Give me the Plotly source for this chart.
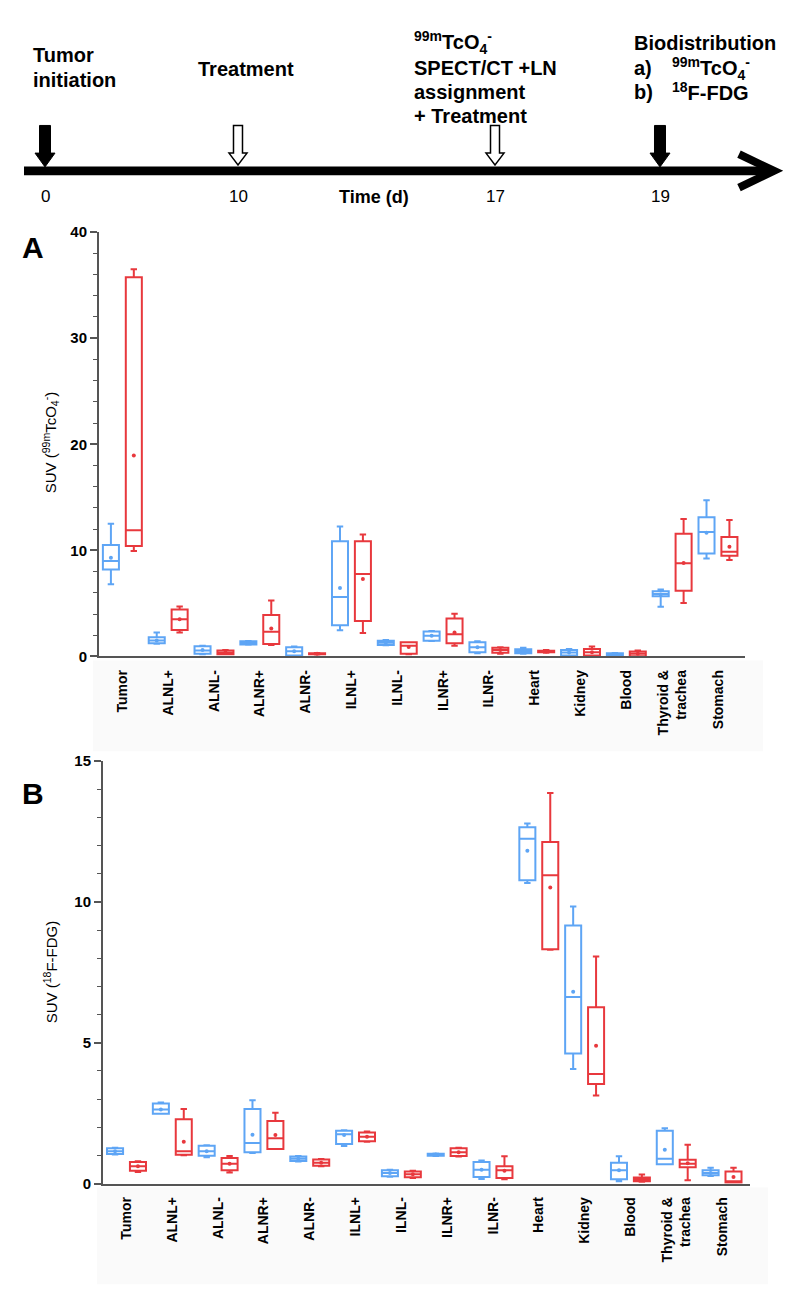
import plotly.graph_objects as go
import numpy as np

W, H = 800, 1307

# ---------------- data ----------------
categories = ["Tumor", "ALNL+", "ALNL-", "ALNR+", "ALNR-", "ILNL+", "ILNL-", "ILNR+",
              "ILNR-", "Heart", "Kidney", "Blood", "Thyroid & trachea", "Stomach"]
tick_text = ["Tumor", "ALNL+", "ALNL-", "ALNR+", "ALNR-", "ILNL+", "ILNL-", "ILNR+",
             "ILNR-", "Heart", "Kidney", "Blood", "Thyroid &<br>trachea", "Stomach"]

# Panel A: SUV (99mTcO4-)  -- blue group
a_blue_lf   = [6.8, 1.20, 0.20, 1.10, 0.05, 2.48, 1.05, 1.45, 0.30, 0.25, 0.05, 0.02, 4.68, 9.24]
a_blue_q1   = [8.2, 1.24, 0.25, 1.12, 0.10, 2.95, 1.09, 1.49, 0.40, 0.31, 0.09, 0.03, 5.67, 9.71]
a_blue_med  = [9.0, 1.50, 0.56, 1.27, 0.50, 5.60, 1.30, 1.95, 0.87, 0.50, 0.37, 0.15, 5.89, 11.72]
a_blue_q3   = [10.5, 1.80, 0.96, 1.43, 0.87, 10.85, 1.49, 2.36, 1.33, 0.68, 0.62, 0.30, 6.14, 13.12]
a_blue_uf   = [12.5, 2.26, 1.00, 1.45, 0.93, 12.25, 1.55, 2.40, 1.43, 0.81, 0.71, 0.32, 6.30, 14.73]
a_blue_mean = [9.3, 1.50, 0.60, 1.27, 0.50, 6.45, 1.30, 1.95, 0.87, 0.50, 0.37, 0.15, 5.85, 11.65]
# Panel A -- red group
a_red_lf    = [9.95, 2.26, 0.20, 1.08, 0.18, 2.20, 0.20, 1.02, 0.25, 0.35, 0.05, 0.02, 5.05, 9.09]
a_red_q1    = [10.4, 2.50, 0.20, 1.18, 0.20, 3.35, 0.25, 1.24, 0.34, 0.40, 0.09, 0.03, 6.20, 9.49]
a_red_med   = [11.9, 3.50, 0.35, 2.33, 0.25, 7.78, 1.00, 2.10, 0.62, 0.47, 0.40, 0.25, 8.78, 9.86]
a_red_q3    = [35.75, 4.43, 0.56, 3.90, 0.30, 10.85, 1.33, 3.57, 0.81, 0.55, 0.71, 0.47, 11.57, 11.26]
a_red_uf    = [36.5, 4.70, 0.60, 5.27, 0.32, 11.50, 1.35, 4.03, 0.87, 0.60, 0.93, 0.56, 12.96, 12.87]
a_red_mean  = [18.95, 3.50, 0.38, 2.64, 0.25, 7.30, 0.90, 2.27, 0.62, 0.47, 0.40, 0.25, 8.80, 10.33]

# Panel B: SUV (18F-FDG) -- blue group
b_blue_lf   = [1.03, 2.48, 0.93, 1.08, 0.78, 1.33, 0.24, 0.98, 0.16, 10.67, 4.07, 0.08, 0.68, 0.27]
b_blue_q1   = [1.05, 2.48, 0.99, 1.11, 0.80, 1.40, 0.26, 0.99, 0.23, 10.77, 4.62, 0.15, 0.68, 0.29]
b_blue_med  = [1.15, 2.63, 1.15, 1.44, 0.88, 1.75, 0.37, 1.03, 0.49, 12.24, 6.62, 0.47, 0.88, 0.37]
b_blue_q3   = [1.25, 2.84, 1.34, 2.65, 0.96, 1.87, 0.47, 1.06, 0.76, 12.65, 9.16, 0.74, 1.87, 0.47]
b_blue_uf   = [1.27, 2.88, 1.36, 2.96, 0.98, 1.89, 0.49, 1.07, 0.82, 12.78, 9.84, 0.97, 1.96, 0.56]
b_blue_mean = [1.15, 2.63, 1.15, 1.73, 0.88, 1.72, 0.37, 1.03, 0.49, 11.82, 6.81, 0.47, 1.20, 0.37]
# Panel B -- red group
b_red_lf    = [0.41, 1.00, 0.39, 1.23, 0.61, 1.48, 0.20, 0.96, 0.15, 8.30, 3.13, 0.06, 0.12, 0.03]
b_red_q1    = [0.45, 1.02, 0.47, 1.23, 0.63, 1.50, 0.22, 0.98, 0.20, 8.32, 3.53, 0.08, 0.58, 0.03]
b_red_med   = [0.61, 1.15, 0.70, 1.61, 0.74, 1.66, 0.33, 1.11, 0.47, 10.95, 3.89, 0.15, 0.70, 0.08]
b_red_q3    = [0.76, 2.28, 0.91, 2.22, 0.85, 1.81, 0.43, 1.25, 0.61, 12.13, 6.26, 0.21, 0.84, 0.43]
b_red_uf    = [0.79, 2.65, 0.98, 2.51, 0.87, 1.85, 0.45, 1.27, 0.97, 13.87, 8.06, 0.32, 1.38, 0.56]
b_red_mean  = [0.61, 1.48, 0.70, 1.72, 0.74, 1.66, 0.33, 1.11, 0.45, 10.51, 4.89, 0.15, 0.72, 0.23]

# Timeline (schematic)
timeline_days = ["0", "10", "17", "19"]
timeline_filled = [True, False, False, True]

# ---------------- styling ----------------
BLUE = "#5ea5f5"
RED = "#e8383d"
AX = "#555555"
FONT = "Arial, Liberation Sans, sans-serif"


def px(x):
    return x / W


def py(y):
    return 1 - y / H


fig = go.Figure()
idx = np.arange(len(categories))


def add_panel(xa, ya, groups):
    for color, shift, lf, q1, med, q3, uf, mean in groups:
        xpos = idx + shift
        fig.add_trace(go.Box(
            x=xpos, lowerfence=lf, q1=q1, median=med, q3=q3, upperfence=uf,
            width=0.35, whiskerwidth=0.4, fillcolor="white",
            line=dict(color=color, width=2), boxpoints=False,
            xaxis=xa, yaxis=ya, showlegend=False, hoverinfo="skip"))
        fig.add_trace(go.Scatter(
            x=xpos, y=mean, mode="markers",
            marker=dict(color=color, size=4), xaxis=xa, yaxis=ya,
            showlegend=False, hoverinfo="skip"))


add_panel("x", "y", [
    (BLUE, -0.25, a_blue_lf, a_blue_q1, a_blue_med, a_blue_q3, a_blue_uf, a_blue_mean),
    (RED, 0.25, a_red_lf, a_red_q1, a_red_med, a_red_q3, a_red_uf, a_red_mean),
])
add_panel("x2", "y2", [
    (BLUE, -0.25, b_blue_lf, b_blue_q1, b_blue_med, b_blue_q3, b_blue_uf, b_blue_mean),
    (RED, 0.25, b_red_lf, b_red_q1, b_red_med, b_red_q3, b_red_uf, b_red_mean),
])

xcommon = dict(showline=True, linecolor=AX, linewidth=2, ticks="", tickvals=list(idx),
               ticktext=tick_text, tickangle=-90, showgrid=False, zeroline=False,
               tickfont=dict(size=14, weight="bold", color="black", family=FONT),
               ticklabelstandoff=6)
ycommon = dict(showline=True, linecolor=AX, linewidth=2, ticks="outside", ticklen=7,
               tickwidth=1.5, tickcolor=AX, showgrid=False, zeroline=False,
               tickfont=dict(size=15, weight="bold", color="black", family=FONT))

fig.update_layout(
    width=W, height=H, margin=dict(l=0, r=0, t=0, b=0),
    paper_bgcolor="white", plot_bgcolor="rgba(0,0,0,0)",
    font=dict(family=FONT, color="black"),
    xaxis=dict(domain=[px(99), px(745)], range=[-0.51, 13.59], anchor="y", **xcommon),
    yaxis=dict(domain=[py(656), py(226)], range=[0, 40], anchor="x", dtick=10,
               minor=dict(dtick=2, ticklen=4, tickcolor=AX, tickwidth=1.2, ticks="outside"),
               **ycommon),
    xaxis2=dict(domain=[px(103), px(750)], range=[-0.513, 13.61], anchor="y2", **xcommon),
    yaxis2=dict(domain=[py(1190), py(762)], range=[0, 15], anchor="x2", dtick=5,
                minor=dict(dtick=1, ticklen=4, tickcolor=AX, tickwidth=1.2, ticks="outside"),
                **ycommon),
)

shapes = []
# faint grey label strips
shapes.append(dict(type="rect", xref="paper", yref="paper", x0=px(93), x1=px(763),
                   y0=py(752), y1=py(660), fillcolor="#fafafa", line=dict(width=0), layer="below"))
shapes.append(dict(type="rect", xref="paper", yref="paper", x0=px(97), x1=px(768),
                   y0=py(1292), y1=py(1194), fillcolor="#fafafa", line=dict(width=0), layer="below"))

# timeline main bar
shapes.append(dict(type="rect", xref="paper", yref="paper", x0=px(24), x1=px(770),
                   y0=py(168.5), y1=py(159.5), fillcolor="black", line=dict(width=0)))


def path(points):
    s = "M " + " L ".join(f"{px(x):.5f},{py(y):.5f}" for x, y in points)
    return s


# arrow head chevron
shapes.append(dict(type="path", xref="paper", yref="paper",
                   path=path([(739, 147), (774, 164), (739, 181)]),
                   line=dict(color="black", width=8)))

arrow_x = [45, 238, 495, 660]
for c, filled in zip(arrow_x, timeline_filled):
    if filled:
        pts = [(c - 5.5, 118), (c + 5.5, 118), (c + 5.5, 146), (c + 10, 146), (c, 160),
               (c - 10, 146), (c - 5.5, 146)]
        shapes.append(dict(type="path", xref="paper", yref="paper", path=path(pts) + " Z",
                           fillcolor="black", line=dict(color="black", width=1)))
    else:
        pts = [(c - 4.5, 118), (c + 4.5, 118), (c + 4.5, 146), (c + 9, 146), (c, 158),
               (c - 9, 146), (c - 4.5, 146)]
        shapes.append(dict(type="path", xref="paper", yref="paper", path=path(pts) + " Z",
                           fillcolor="white", line=dict(color="black", width=1.5)))

fig.update_layout(shapes=shapes)

ann = []


def text(x, y, s, size=20, bold=True, xanchor="left", angle=0):
    ann.append(dict(x=px(x), y=py(y), xref="paper", yref="paper", text=s, showarrow=False,
                    xanchor=xanchor, yanchor="middle", textangle=angle,
                    font=dict(size=size, weight="bold" if bold else "normal",
                              color="black", family=FONT)))


TC = "<sup>99m</sup>TcO<sub>4</sub><sup>-</sup>"
text(31, 47, "Tumor")
text(31, 72, "initiation")
text(196, 61, "Treatment")
text(412, 34, TC)
text(412, 60, "SPECT/CT +LN")
text(412, 84, "assignment")
text(412, 108, "+ Treatment")
text(632, 34, "Biodistribution")
text(632, 60, "a)")
text(670, 60, TC)
text(632, 84, "b)")
text(670, 84, "<sup>18</sup>F-FDG")

for c, d in zip(arrow_x, timeline_days):
    text(c, 190, d, size=17, bold=False, xanchor="center")
text(374, 190, "Time (d)", size=18, xanchor="center")

text(33, 242, "A", size=30, xanchor="center")
text(33, 795, "B", size=30, xanchor="center")

text(50, 440, "SUV (" + TC + ")", size=15, bold=False, xanchor="center", angle=-90)
text(50, 976, "SUV (<sup>18</sup>F-FDG)", size=15, bold=False, xanchor="center", angle=-90)

fig.update_layout(annotations=ann)

fig.write_html("out.html", config={"displayModeBar": False},
               post_script="document.body.style.margin='0';document.body.style.overflow='hidden';")
